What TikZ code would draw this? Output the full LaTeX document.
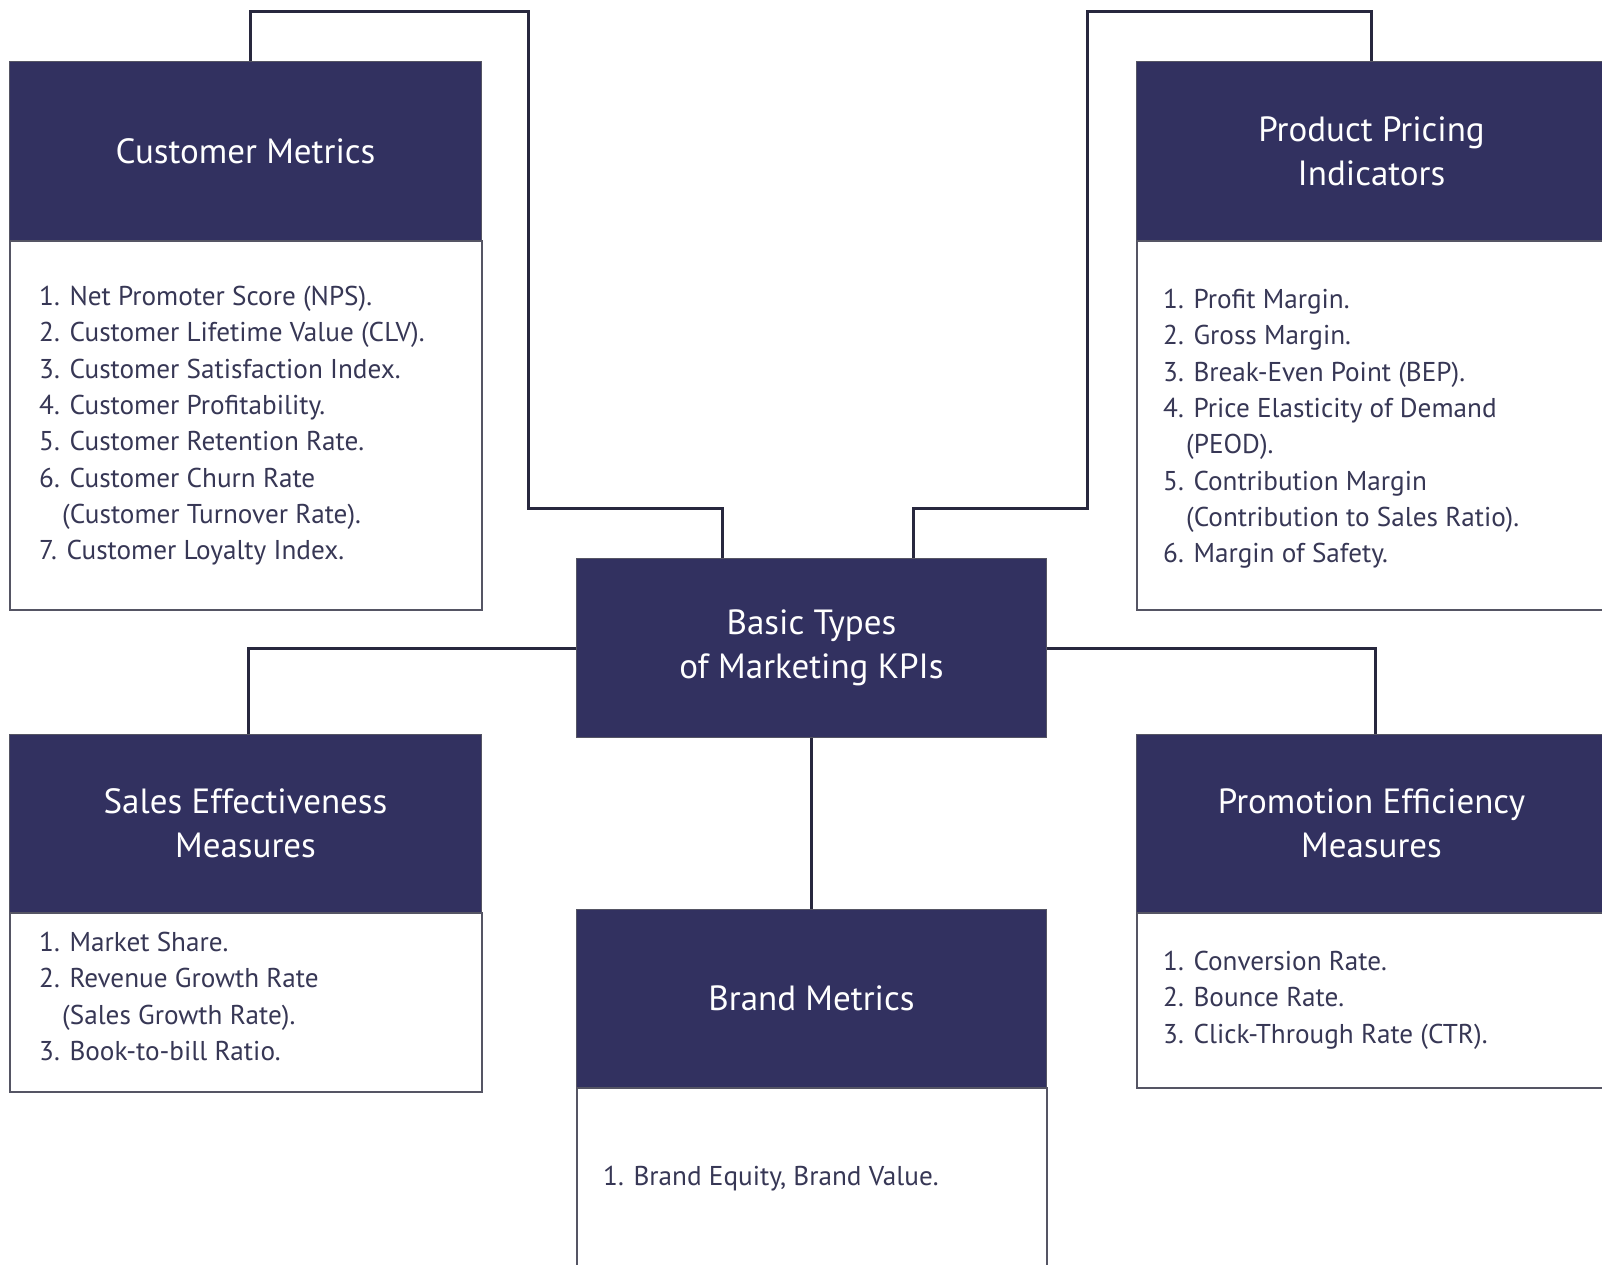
\documentclass[tikz,border=0pt]{standalone}
\usepackage{fontspec}
\setmainfont{PT Sans}
\definecolor{navy}{RGB}{50,49,96}
\definecolor{listc}{RGB}{55,55,85}
\definecolor{linec}{RGB}{40,40,62}
\definecolor{borderc}{RGB}{85,85,100}
\tikzset{
  head/.style={anchor=north west, fill=navy, draw=borderc, line width=1pt, text=white, align=center,
    font=\fontsize{35}{44}\selectfont, inner sep=0pt},
  body/.style={anchor=north west, fill=white, draw=borderc, line width=1.6pt, inner sep=0pt},
  listtxt/.style={anchor=north west, align=left, text=listc, inner sep=0pt,
    font=\fontsize{27.2}{36.3}\selectfont},
  conn/.style={draw=linec, line width=3pt, line join=miter}
}
\newcommand{\ind}{\hspace*{23pt}}
\begin{document}
\begin{tikzpicture}[x=1pt,y=-1pt]
\useasboundingbox (0,0) rectangle (1602,1265);
\fill[white] (0,0) rectangle (1602,1265);
% coordinates for connector bends
\coordinate (cTL) at (528,12);
\coordinate (cML) at (722,508);
\coordinate (pML) at (1087,508);
\coordinate (pTR) at (1370,12);
% Customer Metrics
\node[body, minimum width=472pt, minimum height=369pt] (custB) at (9,240) {};
\node[head, minimum width=472pt, minimum height=179pt] (custH) at (9,61) {Customer Metrics};
\node[listtxt] (custL) at (39,286) {1. Net Promoter Score (NPS).\\
2. Customer Lifetime Value (CLV).\\
3. Customer Satisfaction Index.\\
4. Customer Profitability.\\
5. Customer Retention Rate.\\
6. Customer Churn Rate\\
\ind(Customer Turnover Rate).\\
7. Customer Loyalty Index.};
% Product Pricing
\node[body, minimum width=470pt, minimum height=369pt] (prodB) at (1136,240) {};
\node[head, minimum width=470pt, minimum height=179pt] (prodH) at (1136,61) {Product Pricing\\Indicators};
\node[listtxt] (prodL) at (1163,289) {1. Profit Margin.\\
2. Gross Margin.\\
3. Break-Even Point (BEP).\\
4. Price Elasticity of Demand\\
\ind(PEOD).\\
5. Contribution Margin\\
\ind(Contribution to Sales Ratio).\\
6. Margin of Safety.};
% Center
\node[head, minimum width=470pt, minimum height=179pt] (cent) at (576,558) {Basic Types\\of Marketing KPIs};
% Sales Effectiveness
\node[body, minimum width=472pt, minimum height=179pt] (salesB) at (9,912) {};
\node[head, minimum width=472pt, minimum height=178pt] (salesH) at (9,734) {Sales Effectiveness\\Measures};
\node[listtxt] (salesL) at (39,932) {1. Market Share.\\
2. Revenue Growth Rate\\
\ind(Sales Growth Rate).\\
3. Book-to-bill Ratio.};
% Promotion Efficiency
\node[body, minimum width=470pt, minimum height=175pt] (promB) at (1136,912) {};
\node[head, minimum width=470pt, minimum height=178pt] (promH) at (1136,734) {Promotion Efficiency\\Measures};
\node[listtxt] (promL) at (1163,951) {1. Conversion Rate.\\
2. Bounce Rate.\\
3. Click-Through Rate (CTR).};
% Brand Metrics
\node[body, minimum width=470pt, minimum height=190pt] (brandB) at (576,1087) {};
\node[head, minimum width=470pt, minimum height=178pt] (brandH) at (576,909) {Brand Metrics};
\node[listtxt] (brandL) at (603,1166) {1. Brand Equity, Brand Value.};
% Connectors
\draw[conn] ([xshift=5pt]custH.north) |- (cTL) |- (cML) -- ([xshift=146pt]cent.north west);
\draw[conn] ([xshift=337pt]cent.north west) |- (pML) |- (pTR) -| (prodH.north);
\draw[conn] (cent.west) -| ([xshift=3pt]salesH.north);
\draw[conn] (cent.east) -| ([xshift=4pt]promH.north);
\draw[conn] (cent.south) -- (brandH.north);
\end{tikzpicture}
\end{document}
